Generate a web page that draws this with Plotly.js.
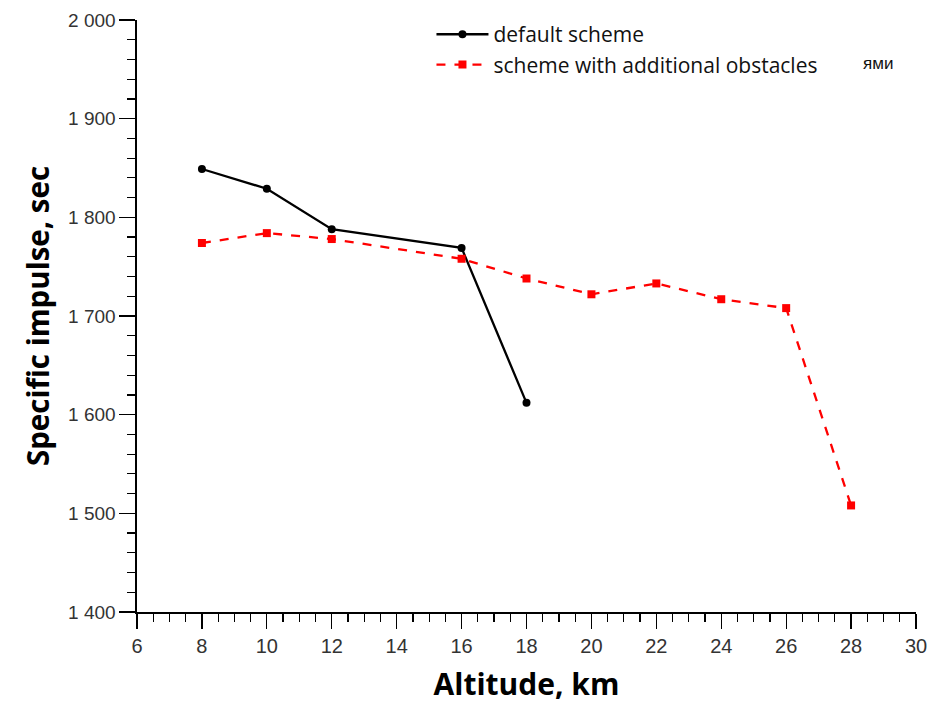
<!DOCTYPE html>
<html>
<head>
<meta charset="utf-8">
<script src="https://cdn.plot.ly/plotly-3.0.1.min.js"></script>
<style>html,body{margin:0;padding:0;background:#fff;}#chart{width:933px;height:704px;}</style>
</head>
<body>
<div id="chart"></div>
<script>
const defaultAltitude = [8, 10, 12, 16, 18];
const defaultImpulse = [1849, 1829, 1788, 1769, 1612];
const obstaclesAltitude = [8, 10, 12, 16, 18, 20, 22, 24, 26, 28];
const obstaclesImpulse = [1774, 1784, 1778, 1758, 1738, 1722, 1733, 1717, 1708, 1508];
const seriesNames = ["default scheme", "scheme with additional obstacles"];
const xTickVals = [6, 8, 10, 12, 14, 16, 18, 20, 22, 24, 26, 28, 30];
const yTickVals = [1400, 1500, 1600, 1700, 1800, 1900, 2000];

const traces = [
  {
    x: defaultAltitude, y: defaultImpulse, name: seriesNames[0],
    mode: "lines+markers", type: "scatter",
    line: {color: "#000000", width: 2.3},
    marker: {symbol: "circle", size: 8, color: "#000000"}
  },
  {
    x: obstaclesAltitude, y: obstaclesImpulse, name: seriesNames[1],
    mode: "lines+markers", type: "scatter",
    line: {color: "#ff0000", width: 2.3, dash: "dash"},
    marker: {symbol: "square", size: 8, color: "#ff0000"}
  }
];

const layout = {
  width: 933, height: 704,
  margin: {l: 137, r: 17, t: 20, b: 92},
  paper_bgcolor: "#ffffff", plot_bgcolor: "#ffffff",
  separators: ". ",
  showlegend: true,
  legend: {
    x: 0.378, y: 1.01, xanchor: "left", yanchor: "top",
    bgcolor: "rgba(0,0,0,0)",
    itemwidth: 52,
    font: {family: "Open Sans, sans-serif", size: 21, color: "#111"},
    tracegroupgap: 0
  },
  xaxis: {
    range: [6, 30],
    tickvals: xTickVals,
    ticks: "outside", ticklen: 15, tickwidth: 1.3, tickcolor: "#000",
    minor: {dtick: 0.5, ticks: "outside", ticklen: 8, tickwidth: 1.2, tickcolor: "#000"},
    showline: true, linecolor: "#000", linewidth: 1.6,
    showgrid: false, zeroline: false,
    tickfont: {family: "Liberation Sans Narrow, Liberation Sans, sans-serif", size: 20, color: "#333"},
    title: {text: "Altitude, km", font: {family: "Open Sans, sans-serif", size: 30, color: "#000", weight: "bold"}, standoff: 19}
  },
  yaxis: {
    range: [1400, 2000],
    tickvals: yTickVals,
    tickformat: ",d",
    ticks: "outside", ticklen: 16, tickwidth: 1.3, tickcolor: "#000",
    minor: {dtick: 20, ticks: "outside", ticklen: 8, tickwidth: 1.2, tickcolor: "#000"},
    showline: true, linecolor: "#000", linewidth: 1.6,
    showgrid: false, zeroline: false,
    tickfont: {family: "Liberation Sans, Arial, sans-serif", size: 19, color: "#333"},
    title: {text: "Specific impulse, sec", font: {family: "Open Sans, sans-serif", size: 29.5, color: "#000", weight: "bold"}, standoff: 10}
  },
  annotations: [
    {xref: "paper", yref: "paper", x: 0.929, y: 0.927, xanchor: "left", yanchor: "middle",
     text: "ями", showarrow: false, font: {family: "Liberation Sans, sans-serif", size: 17, color: "#111"}}
  ]
};

Plotly.newPlot("chart", traces, layout, {displayModeBar: false, staticPlot: true});
</script>
</body>
</html>
